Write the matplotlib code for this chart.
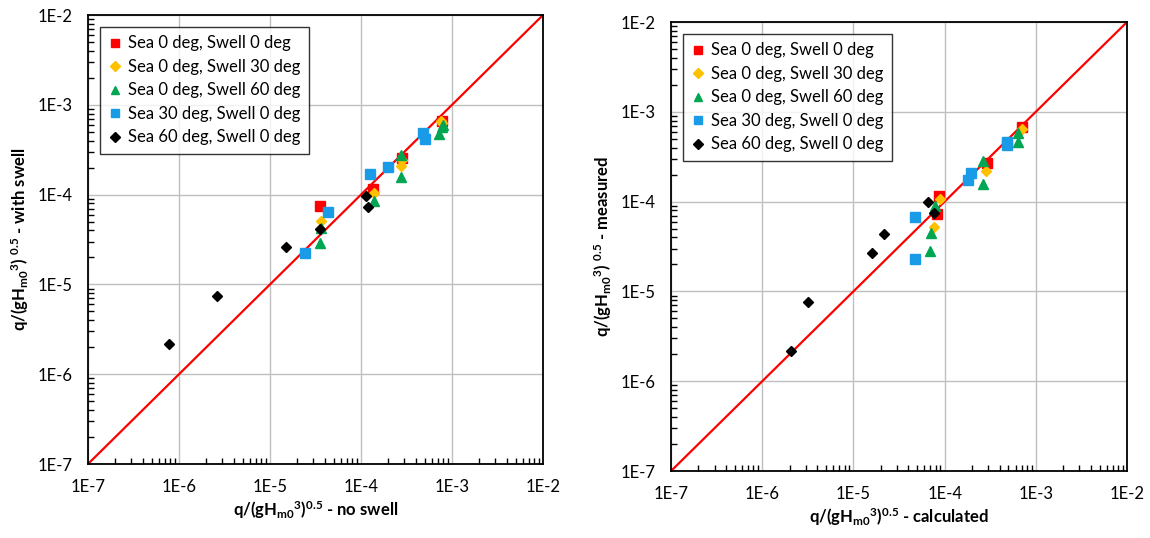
import numpy as np
import matplotlib
matplotlib.use("Agg")
import matplotlib.pyplot as plt
from matplotlib.ticker import LogLocator, FuncFormatter, NullFormatter

plt.rcParams['font.family'] = ['Lato', 'DejaVu Sans']
plt.rcParams['mathtext.default'] = 'regular'

labels = ["Sea 0 deg, Swell 0 deg", "Sea 0 deg, Swell 30 deg", "Sea 0 deg, Swell 60 deg",
          "Sea 30 deg, Swell 0 deg", "Sea 60 deg, Swell 0 deg"]
colors = ["#FF0000", "#FFC000", "#00A651", "#1A9BE8", "#000000"]
markers = ["s", "D", "^", "s", "D"]
msizes = [7, 5.5, 7, 7, 5.5]

# left panel: no swell (x) vs with swell (y)
a_x0 = [3.55e-5, 1.36e-4, 2.8e-4, 7.7e-4]
a_y0 = [7.4e-5, 1.15e-4, 2.54e-4, 6.65e-4]
a_x30 = [3.6e-5, 1.38e-4, 2.75e-4, 2.8e-4, 7.8e-4, 7.6e-4]
a_y30 = [5.1e-5, 1.03e-4, 2.08e-4, 2.4e-4, 6.2e-4, 6.6e-4]
a_x60 = [3.55e-5, 3.6e-5, 1.38e-4, 2.78e-4, 2.75e-4, 7.2e-4, 7.8e-4, 8.0e-4]
a_y60 = [2.87e-5, 4.3e-5, 8.5e-5, 2.76e-4, 1.56e-4, 4.73e-4, 5.7e-4, 6.0e-4]
a_x30s = [4.34e-5, 2.4e-5, 1.26e-4, 2.0e-4, 4.84e-4, 5.1e-4]
a_y30s = [6.4e-5, 2.22e-5, 1.69e-4, 2.01e-4, 4.82e-4, 4.13e-4]
a_x60s = [7.8e-7, 2.64e-6, 1.49e-5, 3.5e-5, 1.13e-4, 1.2e-4]
a_y60s = [2.15e-6, 7.4e-6, 2.59e-5, 4.1e-5, 9.6e-5, 7.3e-5]

# right panel: calculated (x) vs measured (y)
b_x0 = [8.75e-5, 8.2e-5, 2.9e-4, 7.0e-4]
b_y0 = [1.15e-4, 7.3e-5, 2.71e-4, 6.82e-4]
b_x30 = [8.9e-5, 7.7e-5, 2.85e-4, 7.1e-4]
b_y30 = [1.06e-4, 5.26e-5, 2.21e-4, 6.4e-4]
b_x60 = [7.85e-5, 7.05e-5, 7.0e-5, 2.62e-4, 2.62e-4, 6.46e-4, 6.46e-4]
b_y60 = [8.9e-5, 4.5e-5, 2.84e-5, 2.85e-4, 1.57e-4, 5.75e-4, 4.65e-4]
b_x30s = [4.7e-5, 4.7e-5, 1.82e-4, 1.94e-4, 4.8e-4, 4.85e-4]
b_y30s = [6.8e-5, 2.28e-5, 1.74e-4, 2.07e-4, 4.65e-4, 4.27e-4]
b_x60s = [2.07e-6, 3.18e-6, 1.6e-5, 2.17e-5, 6.6e-5, 7.7e-5]
b_y60s = [2.19e-6, 7.57e-6, 2.66e-5, 4.32e-5, 9.8e-5, 7.5e-5]

left_data = [(a_x0, a_y0), (a_x30, a_y30), (a_x60, a_y60), (a_x30s, a_y30s), (a_x60s, a_y60s)]
right_data = [(b_x0, b_y0), (b_x30, b_y30), (b_x60, b_y60), (b_x30s, b_y30s), (b_x60s, b_y60s)]

fig = plt.figure(figsize=(11.5, 5.38), dpi=100)
ax1 = fig.add_axes([0.0765, 0.1375, 0.3957, 0.8346])
ax2 = fig.add_axes([0.5835, 0.1245, 0.3965, 0.8346])

def fmt(v, pos):
    return "1E%d" % int(round(np.log10(v)))

def style(ax, data, xlab, ylab):
    ax.set_xscale('log')
    ax.set_yscale('log')
    ax.set_xlim(1e-7, 1e-2)
    ax.set_ylim(1e-7, 1e-2)
    ax.plot([1e-7, 1e-2], [1e-7, 1e-2], color='red', lw=1.6, zorder=2)
    for (x, y), lab, c, m, ms in zip(data, labels, colors, markers, msizes):
        ax.plot(x, y, ls='none', marker=m, color=c, ms=ms, label=lab, zorder=3)
    ax.grid(True, which='major', color='#BFBFBF', lw=1)
    ax.set_axisbelow(True)
    ax.xaxis.set_major_locator(LogLocator(base=10, numticks=10))
    ax.yaxis.set_major_locator(LogLocator(base=10, numticks=10))
    ax.xaxis.set_minor_locator(LogLocator(base=10, subs=np.arange(2, 10), numticks=20))
    ax.yaxis.set_minor_locator(LogLocator(base=10, subs=np.arange(2, 10), numticks=20))
    ax.xaxis.set_major_formatter(FuncFormatter(fmt))
    ax.yaxis.set_major_formatter(FuncFormatter(fmt))
    ax.xaxis.set_minor_formatter(NullFormatter())
    ax.yaxis.set_minor_formatter(NullFormatter())
    ax.tick_params(which='major', length=0, labelsize=12, pad=11)
    ax.tick_params(which='minor', direction='in', length=4, width=1, color='black')
    for s in ax.spines.values():
        s.set_color('black')
        s.set_linewidth(1.3)
    ax.set_xlabel(xlab, fontsize=12, fontweight='bold', labelpad=3)
    ax.set_ylabel(ylab, fontsize=12, fontweight='bold', labelpad=5)
    leg = ax.legend(loc='upper left', bbox_to_anchor=(0.026, 0.973), borderaxespad=0,
                    fontsize=12, frameon=True, fancybox=False, handlelength=0.8,
                    handletextpad=0.4, labelspacing=0.45, borderpad=0.5, markerscale=0.9)
    leg.get_frame().set_edgecolor('black')
    leg.get_frame().set_linewidth(1.0)

style(ax1, left_data, r"q/(gH$_{m0}$$^{3}$)$^{0.5}$ - no swell",
      r"q/(gH$_{m0}$$^{3}$) $^{0.5}$ - with swell")
style(ax2, right_data, r"q/(gH$_{m0}$$^{3}$)$^{0.5}$ - calculated",
      r"q/(gH$_{m0}$$^{3}$) $^{0.5}$ - measured")

fig.savefig("out.png", dpi=100)
